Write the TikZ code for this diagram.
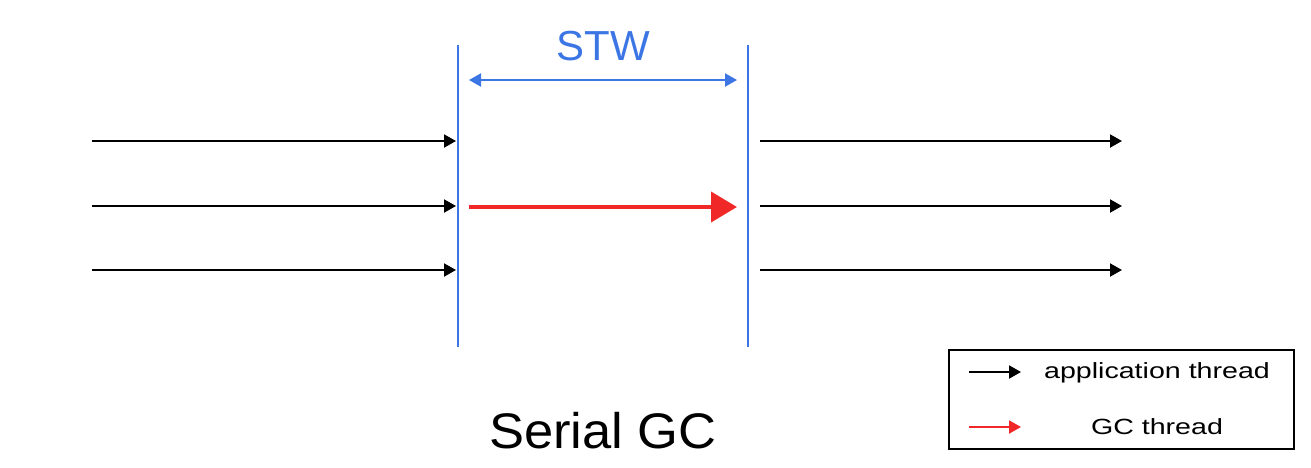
\documentclass[tikz,border=0pt]{standalone}
\usepackage{fontspec}
\setmainfont{Liberation Sans}
\usetikzlibrary{arrows.meta}
\definecolor{stwblue}{RGB}{59,118,228}
\definecolor{gcred}{RGB}{240,40,40}
\begin{document}
\begin{tikzpicture}[x=1pt,y=-1pt,
  app/.style={draw=black,line width=2pt,-{Triangle[length=12pt,width=13pt]}},
  gc/.style={draw=gcred,line width=4pt,-{Triangle[length=26pt,width=30pt]}},
  bar/.style={draw=stwblue,line width=2pt},
  lbl/.style={inner sep=0pt,anchor=center}]
\useasboundingbox (0,0) rectangle (1311,467);
% blue barriers
\coordinate (b1t) at (458,45); \coordinate (b1b) at (458,347);
\coordinate (b2t) at (748,45); \coordinate (b2b) at (748,347);
\draw[bar] (b1t) -- (b1b);
\draw[bar] (b2t) -- (b2b);
% STW
\coordinate (s1) at (469,80); \coordinate (s2) at (737,80);
\draw[bar,{Triangle[length=12pt,width=13pt]}-{Triangle[length=12pt,width=13pt]}] (s1) -- (s2);
\node[lbl,text=stwblue,font=\fontsize{42}{42}\selectfont] (stw) at (603,46) {STW};
% left and right arrows
\foreach \y/\n in {141/a,206/b,270/c}{
  \coordinate (l\n) at (92,\y); \coordinate (m\n) at (456,\y);
  \draw[app] (l\n) -- (m\n);
  \coordinate (r\n) at (760,\y); \coordinate (e\n) at (1122,\y);
  \draw[app] (r\n) -- (e\n);
}
% red GC arrow
\coordinate (g1) at (469,207); \coordinate (g2) at (737,207);
\draw[gc] (g1) -- (g2);
% title
\node[lbl,font=\fontsize{50}{50}\selectfont,xscale=1.05] (title) at (603,431) {Serial GC};
% legend
\node[draw=black,line width=2pt,minimum width=345pt,minimum height=99pt,inner sep=0pt] (legend) at (1121.5,399.5) {};
\coordinate (la1) at (969,372); \coordinate (la2) at (1021,372);
\draw[app] (la1) -- (la2);
\coordinate (lg1) at (969,427); \coordinate (lg2) at (1021,427);
\draw[draw=gcred,line width=2pt,-{Triangle[length=12pt,width=13pt]}] (lg1) -- (lg2);
\node[lbl,font=\fontsize{22}{22}\selectfont,xscale=1.3] (t1) at (1157,373) {application thread};
\node[lbl,font=\fontsize{22}{22}\selectfont,xscale=1.3] (t2) at (1157,427) {GC thread};
\end{tikzpicture}
\end{document}
